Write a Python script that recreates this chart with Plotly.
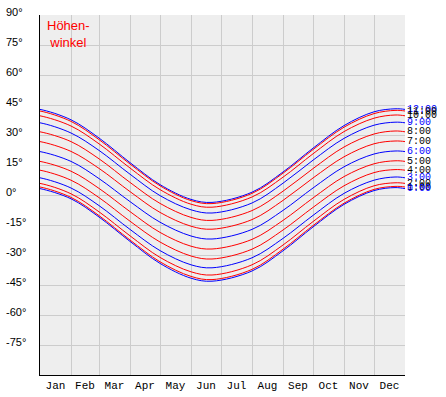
import plotly.graph_objects as go

# Day of year (0 = 1 Jan) at which the curves were read; -11 and 376 are the
# neighbouring solstice / mid-January readings that keep the ends of the curves flat
days = [-11, 0, 31, 59, 90, 120, 151, 172, 212, 243, 273, 304, 334, 355, 365, 376]

hour_labels = ["12:00", "11:00", "10:00", "9:00", "8:00", "7:00", "6:00",
               "5:00", "4:00", "3:00", "2:00", "1:00", "0:00"]

h12 = [43.1, 42.8, 37.6, 28.5, 16.2, 5.2, -2.2, -3.7, 1.4, 11.5, 23.4, 34.7, 41.6, 43.1, 42.8, 41.6]
h11 = [42.3, 42.0, 36.8, 27.7, 15.5, 4.6, -2.8, -4.3, 0.8, 10.9, 22.7, 33.9, 40.7, 42.3, 42.0, 40.7]
h10 = [40.0, 39.6, 34.5, 25.6, 13.5, 2.7, -4.6, -6.1, -1.0, 8.9, 20.6, 31.7, 38.4, 40.0, 39.6, 38.4]
h9 = [36.4, 36.1, 31.0, 22.3, 10.4, -0.3, -7.4, -9.0, -4.0, 5.9, 17.4, 28.3, 34.9, 36.4, 36.1, 34.9]
h8 = [32.0, 31.6, 26.7, 18.1, 6.3, -4.2, -11.2, -12.7, -7.8, 1.9, 13.2, 24.0, 30.5, 32.0, 31.6, 30.5]
h7 = [27.0, 26.7, 21.8, 13.3, 1.7, -8.7, -15.6, -17.1, -12.3, -2.7, 8.5, 19.1, 25.6, 27.0, 26.7, 25.6]
h6 = [22.0, 21.7, 16.8, 8.2, -3.3, -13.6, -20.5, -22.0, -17.2, -7.7, 3.5, 14.1, 20.5, 22.0, 21.7, 20.5]
h5 = [17.1, 16.8, 11.9, 3.3, -8.3, -18.7, -25.6, -27.0, -22.2, -12.7, -1.5, 9.2, 15.6, 17.1, 16.8, 15.6]
h4 = [12.7, 12.4, 7.4, -1.3, -13.1, -23.5, -30.5, -32.0, -27.1, -17.5, -6.2, 4.6, 11.2, 12.7, 12.4, 11.2]
h3 = [9.0, 8.6, 3.5, -5.3, -17.2, -27.8, -34.9, -36.4, -31.4, -21.7, -10.2, 0.8, 7.4, 9.0, 8.6, 7.4]
h2 = [6.1, 5.8, 0.6, -8.4, -20.4, -31.2, -38.4, -40.0, -34.9, -25.0, -13.3, -2.2, 4.6, 6.1, 5.8, 4.6]
h1 = [4.3, 4.0, -1.2, -10.3, -22.5, -33.4, -40.7, -42.3, -37.2, -27.1, -15.3, -4.1, 2.8, 4.3, 4.0, 2.8]
h0 = [3.7, 3.2, -1.9, -11.0, -23.2, -34.2, -41.6, -43.1, -38.0, -27.9, -16.0, -4.7, 2.2, 3.7, 3.2, 2.2]

series = [h12, h11, h10, h9, h8, h7, h6, h5, h4, h3, h2, h1, h0]
is_blue = [True, False, False, True, False, False, True, False, False, True, False, False, True]

month_names = ["Jan", "Feb", "Mar", "Apr", "May", "Jun",
               "Jul", "Aug", "Sep", "Oct", "Nov", "Dec"]
month_starts = [0, 31, 59, 90, 120, 151, 181, 212, 243, 273, 304, 334, 365]

y_ticks = [90, 75, 60, 45, 30, 15, 0, -15, -30, -45, -60, -75]
y_tick_text = [f"{v}°" for v in y_ticks]

fig = go.Figure()

for vals, blue in zip(series, is_blue):
    fig.add_trace(go.Scatter(
        x=days, y=vals, mode="lines",
        line=dict(color="#0000FF" if blue else "#FF0000", width=1, shape="spline"),
        hoverinfo="skip", showlegend=False, cliponaxis=True,
    ))

# hour labels at the right end (31 Dec) of each curve
end_idx = days.index(365)
for vals, blue, lab in zip(series, is_blue, hour_labels):
    fig.add_annotation(
        x=days[end_idx], y=vals[end_idx], xref="x", yref="y", text=lab, showarrow=False,
        xanchor="left", yanchor="middle", xshift=0,
        font=dict(family="Liberation Mono", size=10, color="#0000FF" if blue else "#000000"),
    )

# y tick labels (slightly above their grid lines, as in the reference)
for v, t in zip(y_ticks, y_tick_text):
    fig.add_annotation(
        x=0, y=v, xref="paper", yref="y", text=t, showarrow=False,
        xanchor="left", yanchor="middle", xshift=-36, yshift=3,
        font=dict(family="Liberation Sans", size=11, color="#000000"),
    )

# title inside the plot
fig.add_annotation(
    x=0, y=1, xref="paper", yref="paper", text="Höhen-<br>winkel", showarrow=False,
    xanchor="left", yanchor="top", xshift=5, yshift=-1, align="center",
    font=dict(family="Liberation Sans", size=13, color="#FF0000"),
)

mid_month = [(a + b) / 2 for a, b in zip(month_starts[:-1], month_starts[1:])]

fig.update_layout(
    width=446, height=397,
    margin=dict(l=40, r=41, t=15, b=22, autoexpand=False),
    paper_bgcolor="#FFFFFF", plot_bgcolor="#EEEEEE",
    xaxis=dict(
        range=[0, 365], tickmode="array", tickvals=mid_month, ticktext=month_names,
        showgrid=False, zeroline=False, showline=True, linecolor="#000000", linewidth=1,
        ticks="", automargin=False,
        tickfont=dict(family="Liberation Mono", size=11, color="#000000"),
        minor=dict(tickmode="array", tickvals=month_starts[1:], showgrid=True,
                   gridcolor="#CCCCCC", gridwidth=1, ticks=""),
        fixedrange=True,
    ),
    yaxis=dict(
        range=[-90, 90], tickmode="array", tickvals=y_ticks[1:], showticklabels=False,
        showgrid=True, gridcolor="#CCCCCC", gridwidth=1, zeroline=False,
        showline=True, linecolor="#000000", linewidth=1, ticks="", automargin=False,
        fixedrange=True,
    ),
)

fig.write_html(
    "out.html",
    config={"displayModeBar": False},
    post_script="document.body.style.margin='0';",
)
